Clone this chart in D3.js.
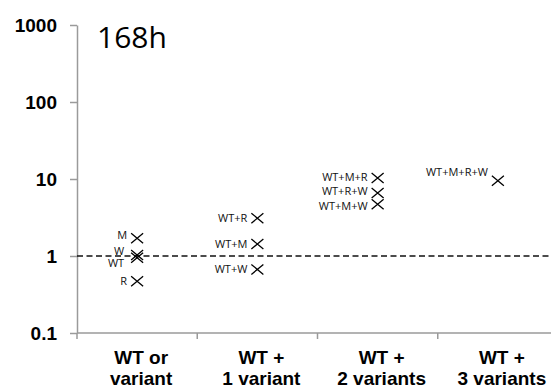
<!DOCTYPE html>
<html>
<head>
<meta charset="utf-8">
<script src="https://cdn.jsdelivr.net/npm/d3@7"></script>
<style>
	html, body { margin: 0; padding: 0; background: white; }
	svg { display: block; }
</style>
</head>
<body>
<div id="container"></div>
<script>
// chart data
const categories = ["WT or variant", "WT + 1 variant", "WT + 2 variants", "WT + 3 variants"];
const categoryLines = [["WT or", "variant"], ["WT +", "1 variant"], ["WT +", "2 variants"], ["WT +", "3 variants"]];
const pointLabels = ["M", "W", "WT", "R", "WT+R", "WT+M", "WT+W", "WT+M+R", "WT+R+W", "WT+M+W", "WT+M+R+W"];
const pointGroup = [0, 0, 0, 0, 1, 1, 1, 2, 2, 2, 3];
const pointValues = [1.7, 1.03, 0.95, 0.47, 3.1, 1.43, 0.67, 10.3, 6.6, 4.7, 9.5];
const yTicks = [0.1, 1, 10, 100, 1000];
const yTickLabels = ["0.1", "1", "10", "100", "1000"];
const refLevel = 1;
const title = "168h";

// label nudges so overlapping labels stay readable [dx, dy]
const labelNudge = {"M": [0, -3], "W": [-3, -4], "WT": [-3, 5], "WT+M+R": [0, -1], "WT+R+W": [0, -2], "WT+M+W": [0, 2], "WT+M+R+W": [0, -9]};

const w = 551; // canvas width
const h = 390; // canvas height
const pLeft = 77, pTop = 25, pBottom = 333, pRight = 551;

const svg = d3.select("#container").append("svg").attr("width", w).attr("height", h);

const xScale = d3.scaleBand().domain(categories).range([pLeft, 558]);
const yScale = d3.scaleLog().domain([0.1, 1000]).range([pBottom, pTop]);

// y axis
const yAxis = d3.axisLeft(yScale).tickValues(yTicks).tickFormat((d, i) => yTickLabels[i]).tickSize(7).tickSizeOuter(0).tickPadding(13);
const gy = svg.append("g").attr("transform", `translate(${pLeft}, 0)`).call(yAxis);
gy.selectAll("path, line").attr("stroke", "#9a9a9a").attr("stroke-width", 1.5);
gy.selectAll("text").attr("font-family", "Liberation Sans, Arial, sans-serif").attr("font-weight", "bold").attr("font-size", 19).attr("fill", "#000");

// x axis line + boundary ticks
svg.append("line").attr("x1", pLeft).attr("x2", pRight).attr("y1", pBottom).attr("y2", pBottom).attr("stroke", "#9a9a9a").attr("stroke-width", 1.5);
svg.selectAll(".xtick").data(categories).enter().append("line").attr("class", "xtick")
	.attr("x1", (d) => xScale(d)).attr("x2", (d) => xScale(d))
	.attr("y1", pBottom).attr("y2", pBottom + 6)
	.attr("stroke", "#9a9a9a").attr("stroke-width", 1.5);

// x labels
const xl = svg.selectAll(".xlab").data(categories).enter().append("text").attr("class", "xlab")
	.attr("x", (d) => xScale(d) + xScale.bandwidth() / 2 + 4)
	.attr("y", 364)
	.attr("text-anchor", "middle")
	.attr("font-family", "Liberation Sans, Arial, sans-serif").attr("font-weight", "bold").attr("font-size", 19);
xl.each(function(d, i) {
	const t = d3.select(this);
	categoryLines[i].forEach((line, j) => {
		t.append("tspan").attr("x", xScale(d) + xScale.bandwidth() / 2 + 4).attr("dy", j == 0 ? 0 : 21).text(line);
	});
});

// reference line
svg.append("line").attr("x1", pLeft).attr("x2", pRight).attr("y1", yScale(refLevel)).attr("y2", yScale(refLevel))
	.attr("stroke", "#111").attr("stroke-width", 1.4).attr("stroke-dasharray", "6,3.5");

// points
const cx = (i) => xScale(categories[pointGroup[i]]) + xScale.bandwidth() / 2;
svg.selectAll(".pt").data(pointValues).enter().append("path").attr("class", "pt")
	.attr("d", (d, i) => {
		const x = cx(i), y = yScale(d), a = 6, b = 5;
		return `M${x - a},${y - b}L${x + a},${y + b}M${x - a},${y + b}L${x + a},${y - b}`;
	})
	.attr("stroke", "#000").attr("stroke-width", 1.3).attr("fill", "none");

svg.selectAll(".plab").data(pointValues).enter().append("text").attr("class", "plab")
	.attr("x", (d, i) => cx(i) - 10 + (labelNudge[pointLabels[i]] || [0, 0])[0])
	.attr("y", (d, i) => yScale(d) + (labelNudge[pointLabels[i]] || [0, 0])[1])
	.attr("dy", "0.35em")
	.attr("text-anchor", "end")
	.attr("font-family", "Open Sans, sans-serif").attr("font-size", 11).attr("fill", "#111")
	.text((d, i) => pointLabels[i]);

// title
svg.append("text").attr("x", 97).attr("y", 48).attr("font-family", "Open Sans, sans-serif").attr("font-size", 30).attr("fill", "#000").text(title);
</script>
</body>
</html>
